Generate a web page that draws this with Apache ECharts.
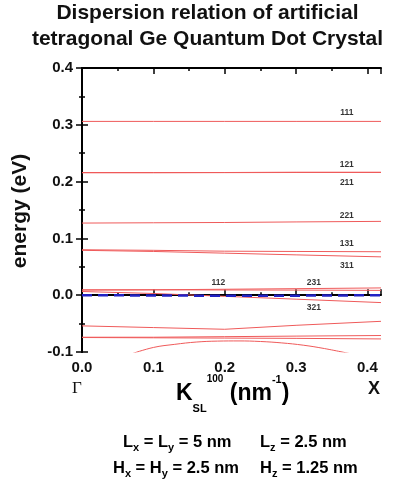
<!DOCTYPE html>
<html><head><meta charset="utf-8">
<script src="https://cdn.jsdelivr.net/npm/echarts@6/dist/echarts.min.js"></script>
<style>html,body{margin:0;padding:0;background:#fff}#c{width:393px;height:488px}</style>
</head><body><div id="c"></div>
<script>
// ---- data (k in nm^-1, energy in eV) ----
const kMin = 0, kMax = 0.419;
const eMin = -0.1, eMax = 0.4;
const kCommon = [0, 0.1, 0.2, 0.3, 0.419];
const e111 = [0.306, 0.306, 0.306, 0.306, 0.306];
const e121 = [0.216, 0.216, 0.216, 0.2165, 0.2165];
const e211 = [0.2155, 0.2155, 0.2158, 0.216, 0.216];
const e221 = [0.127, 0.1275, 0.128, 0.129, 0.130];
const e131 = [0.080, 0.079, 0.0775, 0.077, 0.0765];
const e311 = [0.079, 0.077, 0.074, 0.071, 0.0675];
const e112 = [0.0095, 0.0095, 0.0092, 0.009, 0.0085];
const e231 = [0.009, 0.0095, 0.0105, 0.0115, 0.0128];
const e321 = [0.0065, 0.003, -0.002, -0.007, -0.013];
const eLowA = [-0.054, -0.057, -0.060, -0.053, -0.046];
const eLowB1 = [-0.074, -0.074, -0.073, -0.072, -0.071];
const eLowB2 = [-0.0745, -0.075, -0.0755, -0.076, -0.077];
const eDashed = [0.0, -0.0005, -0.001, -0.0008, 0.0];
const kCurve = [0.07, 0.10, 0.13, 0.16, 0.19, 0.22, 0.25, 0.28, 0.31, 0.34, 0.38];
const eCurve = [-0.103, -0.092, -0.0865, -0.0825, -0.0808, -0.0805, -0.0815, -0.084, -0.088, -0.094, -0.104];

const bandLabels = ['111', '121', '211', '221', '131', '311', '112', '231', '321'];
const bandLabelK = [0.371, 0.371, 0.371, 0.371, 0.371, 0.371, 0.191, 0.325, 0.325];
const bandLabelE = [0.322, 0.229, 0.199, 0.140, 0.090, 0.052, 0.0227, 0.0216, -0.022];

const kTickLabels = ['0.0', '0.1', '0.2', '0.3', '0.4'];

// ---- build ----
const pairs = (ks, es) => ks.map((k, i) => [k, es[i]]);
const redBands = [
  pairs(kCommon, e111), pairs(kCommon, e121), pairs(kCommon, e211), pairs(kCommon, e221),
  pairs(kCommon, e131), pairs(kCommon, e311), pairs(kCommon, e112), pairs(kCommon, e231),
  pairs(kCommon, e321), pairs(kCommon, eLowA), pairs(kCommon, eLowB1), pairs(kCommon, eLowB2)
];
const RED = '#ef5a5a';
const series = redBands.map(d => ({
  type: 'line', data: d, symbol: 'none', silent: true, animation: false,
  lineStyle: { color: RED, width: 1 }, z: 2
}));
series.push({
  type: 'line', data: pairs(kCurve, eCurve), symbol: 'none', smooth: 0.4, silent: true, animation: false,
  lineStyle: { color: RED, width: 1 }, z: 2
});
series.push({
  type: 'line', data: pairs(kCommon, eDashed), symbol: 'none', silent: true, animation: false,
  lineStyle: { color: '#2222c4', width: 2.5, type: [10, 6] }, z: 3
});
const fontF = 'Liberation Sans, Arial, sans-serif';
series.push({
  type: 'scatter', silent: true, animation: false, symbolSize: 1,
  itemStyle: { color: 'transparent' },
  data: bandLabels.map((t, i) => [bandLabelK[i], bandLabelE[i], t]),
  label: { show: true, position: 'inside', formatter: p => p.data[2],
    fontSize: 8.5, fontWeight: 'bold', color: '#000', fontFamily: fontF },
  z: 4
});

const axisLineStyle = { color: '#000', width: 2 };
const kLabelFmt = v => {
  const i = Math.round(v * 10);
  return Math.abs(v * 10 - i) < 1e-6 && i >= 0 && i < kTickLabels.length ? kTickLabels[i] : '';
};
function xAxis(position, interval, len, showLabel, showLine) {
  return {
    type: 'value', min: kMin, max: kMax, interval: interval, position: position,
    axisLine: { show: showLine, lineStyle: axisLineStyle },
    axisTick: { show: true, inside: true, length: len, lineStyle: { color: '#000', width: 1.5 } },
    axisLabel: { show: showLabel, formatter: kLabelFmt, fontSize: 15, fontWeight: 'bold', color: '#111', margin: 8, fontFamily: fontF, hideOverlap: false },
    splitLine: { show: false }
  };
}
function yAxis(position, showLabel) {
  return {
    type: 'value', min: eMin, max: eMax, interval: 0.1, position: position,
    axisLine: { show: true, lineStyle: axisLineStyle },
    axisTick: { show: true, inside: true, length: 6, lineStyle: { color: '#000', width: 1.5 } },
    minorTick: { show: true, splitNumber: 2, length: 3, lineStyle: { color: '#000', width: 1.5 } },
    axisLabel: { show: showLabel, formatter: v => v.toFixed(1), fontSize: 15, fontWeight: 'bold', color: '#111', margin: 9, fontFamily: fontF },
    splitLine: { show: false }, minorSplitLine: { show: false }
  };
}

const mainRich = { fontSize: 16.5, fontWeight: 'bold', fontFamily: fontF, color: '#111', lineHeight: 22 };
const subRich = { fontSize: 11, fontWeight: 'bold', fontFamily: fontF, color: '#111', lineHeight: 4, verticalAlign: 'bottom' };
function paramText(x, y, text) {
  return { type: 'text', x: x, y: y, silent: true,
    style: { text: text, textVerticalAlign: 'middle', textAlign: 'left', rich: { m: mainRich, s: subRich } } };
}

const option = {
  animation: false,
  title: {
    text: 'Dispersion relation of artificial\ntetragonal Ge Quantum Dot Crystal',
    left: 207.5, top: 0, textAlign: 'center', padding: 0,
    textStyle: { fontSize: 21, fontWeight: 'bold', color: '#111', lineHeight: 26, fontFamily: fontF }
  },
  grid: { left: 82, right: 12, top: 68, bottom: 136, containLabel: false, outerBoundsMode: 'none' },
  xAxis: [
    xAxis('bottom', 0.1, 6, true, true),
    xAxis('bottom', 0.05, 3, false, false),
    xAxis('top', 0.1, 6, false, true),
    xAxis('top', 0.05, 3, false, false)
  ],
  yAxis: [yAxis('left', true), yAxis('right', false)],
  series: series,
  graphic: [
    { type: 'text', x: 20, y: 211, rotation: Math.PI / 2, silent: true,
      style: { text: 'energy (eV)', fontSize: 21, fontWeight: 'bold', fontFamily: fontF, fill: '#111', textAlign: 'center', textVerticalAlign: 'middle' } },
    { type: 'text', x: 77, y: 389, silent: true,
      style: { text: 'Γ', fontSize: 17, fontFamily: 'Liberation Serif, Times New Roman, serif', fill: '#111', textAlign: 'center', textVerticalAlign: 'middle' } },
    { type: 'text', x: 374, y: 389, silent: true,
      style: { text: 'X', fontSize: 18, fontWeight: 'bold', fontFamily: fontF, fill: '#111', textAlign: 'center', textVerticalAlign: 'middle' } },
    { type: 'text', x: 176, y: 394, silent: true,
      style: { text: '{m|K}{sub|SL}{sup|100}{m| (nm}{sup2|-1}{m|)}', textVerticalAlign: 'middle', textAlign: 'left',
        rich: {
          m: { fontSize: 23, fontWeight: 'bold', fontFamily: fontF, color: '#111', lineHeight: 40 },
          sub: { fontSize: 11, fontWeight: 'bold', fontFamily: fontF, color: '#111', lineHeight: 4, verticalAlign: 'bottom' },
          sup: { fontSize: 10, fontWeight: 'bold', fontFamily: fontF, color: '#111', lineHeight: 8, verticalAlign: 'top' },
          sup2: { fontSize: 11, fontWeight: 'bold', fontFamily: fontF, color: '#111', lineHeight: 16, verticalAlign: 'top' }
        } } },
    paramText(123, 442, '{m|L}{s|x}{m| = L}{s|y}{m| = 5 nm}'),
    paramText(260, 442, '{m|L}{s|z}{m| = 2.5 nm}'),
    paramText(113, 468, '{m|H}{s|x}{m| = H}{s|y}{m| = 2.5 nm}'),
    paramText(260, 468, '{m|H}{s|z}{m| = 1.25 nm}')
  ]
};
echarts.init(document.getElementById('c'), null, { renderer: 'canvas' }).setOption(option);
</script>
</body></html>
